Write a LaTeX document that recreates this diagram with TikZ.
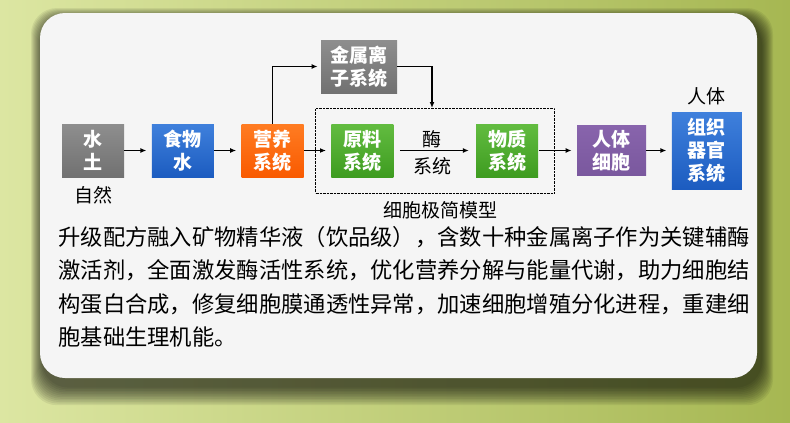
\documentclass[tikz,border=0pt]{standalone}
\usepackage{fontspec}
\setmainfont{Noto Sans CJK SC}
\usepackage{xcolor}
\usetikzlibrary{arrows.meta, positioning, fit}

\definecolor{bgL}{HTML}{DCE6A2}
\definecolor{bgM}{HTML}{B8C768}
\definecolor{bgR}{HTML}{A6B752}
\definecolor{cardbg}{HTML}{F5F5F5}
\definecolor{grayT}{HTML}{8E8E8E}
\definecolor{grayB}{HTML}{717171}
\definecolor{blueT}{HTML}{3F80DC}
\definecolor{blueB}{HTML}{1C5CC0}
\definecolor{orangeT}{HTML}{FF7C22}
\definecolor{orangeB}{HTML}{F95A00}
\definecolor{greenT}{HTML}{62BC40}
\definecolor{greenB}{HTML}{3E9C20}
\definecolor{purpleT}{HTML}{8864AC}
\definecolor{purpleB}{HTML}{7A589E}

\newcommand\boxtext{\fontsize{19}{23}\selectfont\bfseries}
\newcommand\lbltext{\fontsize{19}{23}\selectfont}
\newcommand\desctext{\fontsize{22.3}{33.4}\selectfont}

\begin{document}
\begin{tikzpicture}[x=1pt, y=-1pt, node distance=27pt, thick,
    sys/.style={minimum width=62pt, minimum height=53pt, inner sep=0pt, align=center, text=white, font=\boxtext},
    graybox/.style={top color=grayT, bottom color=grayB},
    bluebox/.style={top color=blueT, bottom color=blueB},
    orangebox/.style={top color=orangeT, bottom color=orangeB},
    greenbox/.style={top color=greenT, bottom color=greenB},
    purplebox/.style={top color=purpleT, bottom color=purpleB},
    lbl/.style={font=\lbltext, inner sep=0pt},
    arr/.style={->, >={Latex[length=6pt, width=5pt]}, line width=1.3pt, shorten >=5pt}]

    \useasboundingbox (0,0) rectangle (790,423);
    % background and card
    \shade[left color=bgL, middle color=bgM, right color=bgR] (0,0) rectangle (790,423);
    \foreach \k in {1,...,12}
        \fill[black, opacity=0.065, rounded corners=26pt] (43-\k, 20-\k) rectangle (761+\k, 386+1.6*\k);
    \fill[cardbg, rounded corners=25pt] (40,13) rectangle (757,378);

    % system boxes
    \node[sys, graybox] (soil) at (93,150.5) {水\\土};
    \node[sys, bluebox, right=of soil] (food) {食物\\水};
    \node[sys, orangebox, right=of food] (nutri) {营养\\系统};
    \node[sys, greenbox, right=of nutri] (raw) {原料\\系统};
    \node[sys, greenbox, right=82pt of raw] (matter) {物质\\系统};
    \node[sys, purplebox, minimum width=69pt, minimum height=50pt, right=38pt of matter] (cell) {人体\\细胞};
    \node[sys, bluebox, minimum width=70pt, minimum height=77pt, right=25pt of cell] (organ) {组织\\器官\\系统};
    \node[sys, graybox, minimum width=76pt] (metal) at (359,66.5) {金属离\\子系统};

    \node[draw, densely dotted, thin, inner sep=15.5pt, fit=(raw)(matter)] (model) {};

    % labels
    \node[lbl, below=8.5pt of soil] (nature) {自然};
    \node[lbl, above=6.5pt of organ] (human) {人体};
    \node[lbl, below=8pt of model, xshift=6pt] (modelname) {细胞极简模型};
    \node[lbl] (mei) at (432,139) {酶};
    \node[lbl] (meisys) at (432,166) {系统};
    \coordinate (meitop) at (432,113);

    % connectors
    \draw[arr] (soil) -- (food);
    \draw[arr] (food) -- (nutri);
    \draw[arr] (nutri) -- (raw);
    \draw[arr, shorten >=3pt] (nutri.north) |- (metal.west);
    \draw[arr] (metal.east) -| (meitop);
    \draw[arr, shorten <=6pt, shorten >=7pt] (raw) -- (matter);
    \draw[arr] (matter) -- (cell);
    \draw[arr] (cell) -- (organ);

    \node[font=\desctext, align=left, anchor=north west, inner sep=0pt] (desc) at (58,226)
        {升级配方融入矿物精华液（饮品级），含数十种金属离子作为关键辅酶\\
         激活剂，全面激发酶活性系统，优化营养分解与能量代谢，助力细胞结\\
         构蛋白合成，修复细胞膜通透性异常，加速细胞增殖分化进程，重建细\\
         胞基础生理机能。};
\end{tikzpicture}
\end{document}
